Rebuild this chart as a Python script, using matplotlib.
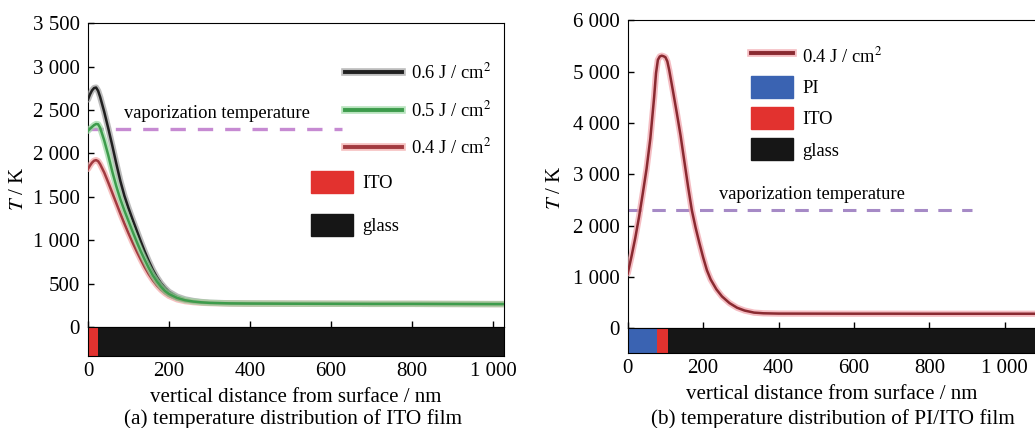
import matplotlib
matplotlib.use('Agg')
import matplotlib.pyplot as plt
from matplotlib.lines import Line2D
from matplotlib.patches import Patch

plt.rcParams['font.family'] = ['Liberation Serif', 'DejaVu Serif']
plt.rcParams['mathtext.fontset'] = 'stix'

# panel (a): ITO film, three fluences
x_a = [0, 5, 10, 15, 20, 25, 30, 40, 50, 60, 70, 80, 90, 100, 110, 120, 130, 140, 150,
       160, 170, 180, 190, 200, 220, 240, 260, 280, 300, 350, 400, 500, 600, 700, 800,
       900, 1000, 1030]
T_06 = [2620, 2680, 2725, 2752, 2758, 2720, 2650, 2480, 2290, 2090, 1880, 1680, 1510,
        1370, 1240, 1115, 990, 870, 760, 660, 575, 505, 450, 405, 350, 318, 300, 288,
        280, 273, 270, 268, 267, 266, 266, 265, 264, 264]
T_05 = [2260, 2285, 2305, 2325, 2338, 2335, 2295, 2150, 1980, 1790, 1620, 1470, 1340,
        1220, 1100, 985, 875, 775, 680, 595, 525, 465, 415, 380, 335, 308, 293, 284,
        278, 272, 270, 268, 267, 266, 266, 265, 264, 264]
T_04 = [1820, 1860, 1893, 1915, 1922, 1910, 1875, 1780, 1665, 1545, 1425, 1305, 1190,
        1080, 975, 875, 780, 690, 610, 540, 480, 430, 390, 358, 318, 297, 286, 279,
        275, 271, 269, 268, 267, 266, 266, 265, 264, 264]
labels_a = ['0.6 J / cm$^2$', '0.5 J / cm$^2$', '0.4 J / cm$^2$']
vap_a = 2280
vap_a_end = 626
layers_a = ['ITO', 'glass']
edges_a = [0, 25, 1030]

# panel (b): PI/ITO film
x_b = [0, 10, 20, 30, 40, 50, 60, 70, 75, 80, 85, 90, 95, 100, 105, 110, 120, 130, 140,
       150, 160, 170, 180, 190, 200, 210, 220, 235, 250, 270, 290, 310, 335, 360, 400,
       500, 600, 700, 800, 900, 1000, 1080]
T_b = [1070, 1400, 1760, 2170, 2630, 3110, 3700, 4500, 4970, 5230, 5295, 5310, 5300,
       5280, 5200, 5030, 4620, 4200, 3760, 3260, 2760, 2300, 1960, 1660, 1380, 1130,
       950, 760, 620, 490, 400, 345, 305, 292, 286, 285, 284, 284, 283, 283, 283, 283]
label_b = '0.4 J / cm$^2$'
vap_b = 2300
vap_b_end = 912
layers_b = ['PI', 'ITO', 'glass']
edges_b = [0, 78, 106, 1080]

xticks = [0, 200, 400, 600, 800, 1000]
xtick_labels = ['0', '200', '400', '600', '800', '1 000']
yticks_a = [0, 500, 1000, 1500, 2000, 2500, 3000, 3500]
ytick_labels_a = ['0', '500', '1 000', '1 500', '2 000', '2 500', '3 000', '3 500']
yticks_b = [0, 1000, 2000, 3000, 4000, 5000, 6000]
ytick_labels_b = ['0', '1 000', '2 000', '3 000', '4 000', '5 000', '6 000']

layer_colors = {'PI': '#3a63b2', 'ITO': '#e2322f', 'glass': '#161616'}
line_styles = {  # core, halo
    '0.6': ('#202020', '#a0a0a0'),
    '0.5': ('#3d9c4c', '#9ad8a2'),
    '0.4': ('#a23a40', '#f2a6a6'),
}

FS = 15
LFS = 13.3


def curve(ax, x, y, core, halo, z):
    ax.plot(x, y, color=halo, lw=4.5, alpha=0.7, solid_capstyle='round', zorder=z)
    ax.plot(x, y, color=core, lw=1.8, zorder=z + 0.5)
    return (Line2D([], [], color=halo, lw=5.5, alpha=0.7),
            Line2D([], [], color=core, lw=2.8))


def setup_panel(ax, bar, xmax, yticks, ylabels, layers, edges):
    ax.set_xlim(0, xmax)
    ax.set_ylim(yticks[0], yticks[-1])
    ax.set_xticks(xticks)
    ax.set_xticklabels([])
    ax.set_yticks(yticks)
    ax.set_yticklabels(ylabels, fontsize=FS)
    ax.tick_params(direction='in', length=4, width=1, top=False, right=False, pad=6)
    ax.set_ylabel('$T$ / K', fontsize=FS)

    widths = [edges[i + 1] - edges[i] for i in range(len(layers))]
    bar.barh(0, widths, left=edges[:-1], height=1,
             color=[layer_colors[n] for n in layers], linewidth=0)
    bar.set_xlim(0, xmax)
    bar.set_ylim(-0.5, 0.5)
    bar.set_yticks([])
    bar.set_xticks(xticks)
    bar.set_xticklabels(xtick_labels, fontsize=FS)
    bar.tick_params(axis='x', length=0, pad=4)
    bar.set_xlabel('vertical distance from surface / nm', fontsize=FS, labelpad=5)


fig = plt.figure(figsize=(10.35, 4.28), dpi=100)

# ---------- (a) ----------
ax_a = fig.add_axes([0.085, 0.236, 0.402, 0.710])
bar_a = fig.add_axes([0.085, 0.168, 0.402, 0.068])
setup_panel(ax_a, bar_a, 1027, yticks_a, ytick_labels_a, layers_a, edges_a)
ax_a.yaxis.set_label_coords(-0.144, 0.454)

h06 = curve(ax_a, x_a, T_06, *line_styles['0.6'], 3)
h04 = curve(ax_a, x_a, T_04, *line_styles['0.4'], 4)
h05 = curve(ax_a, x_a, T_05, *line_styles['0.5'], 5)

ax_a.plot([0, vap_a_end], [vap_a, vap_a], color='#c68ad2', lw=2.4,
          dashes=(4.6, 3.6), zorder=2)
ax_a.text(89, vap_a + 180, 'vaporization temperature', fontsize=LFS, va='center')

leg1 = ax_a.legend([h06, h05, h04], labels_a, loc='upper left',
                   bbox_to_anchor=(0.617, 0.87), frameon=False, fontsize=LFS,
                   handlelength=3.1, handletextpad=0.5, labelspacing=0.95,
                   borderpad=0, borderaxespad=0)
ax_a.add_artist(leg1)
ax_a.legend([Patch(color=layer_colors[n]) for n in layers_a], layers_a,
            loc='upper left', bbox_to_anchor=(0.535, 0.514), frameon=False,
            fontsize=LFS, handlelength=2.3, handleheight=1.45, handletextpad=0.5,
            labelspacing=1.15, borderpad=0, borderaxespad=0)

# ---------- (b) ----------
ax_b = fig.add_axes([0.6065, 0.233, 0.3935, 0.7196])
bar_b = fig.add_axes([0.6065, 0.175, 0.3935, 0.058])
setup_panel(ax_b, bar_b, 1080, yticks_b, ytick_labels_b, layers_b, edges_b)
ax_b.yaxis.set_label_coords(-0.154, 0.457)
ax_b.spines['right'].set_visible(False)
bar_b.spines['right'].set_visible(False)

hb = curve(ax_b, x_b, T_b, '#8a2a31', '#f0a0a8', 4)
ax_b.plot([0, vap_b_end], [vap_b, vap_b], color='#a68ac6', lw=2.2,
          dashes=(4.4, 3.4), zorder=2)
ax_b.text(242, vap_b + 300, 'vaporization temperature', fontsize=LFS, va='center')

ax_b.legend([hb] + [Patch(color=layer_colors[n]) for n in layers_b],
            [label_b] + layers_b, loc='upper left', bbox_to_anchor=(0.303, 0.92),
            frameon=False, fontsize=LFS, handlelength=2.27, handleheight=1.45,
            handletextpad=0.5, labelspacing=0.5, borderpad=0, borderaxespad=0)

fig.text(0.283, 0.022, '(a) temperature distribution of ITO film', fontsize=15.3,
         ha='center', va='center')
fig.text(0.805, 0.022, '(b) temperature distribution of PI/ITO film', fontsize=15.3,
         ha='center', va='center')

fig.savefig('out.png', dpi=100)
